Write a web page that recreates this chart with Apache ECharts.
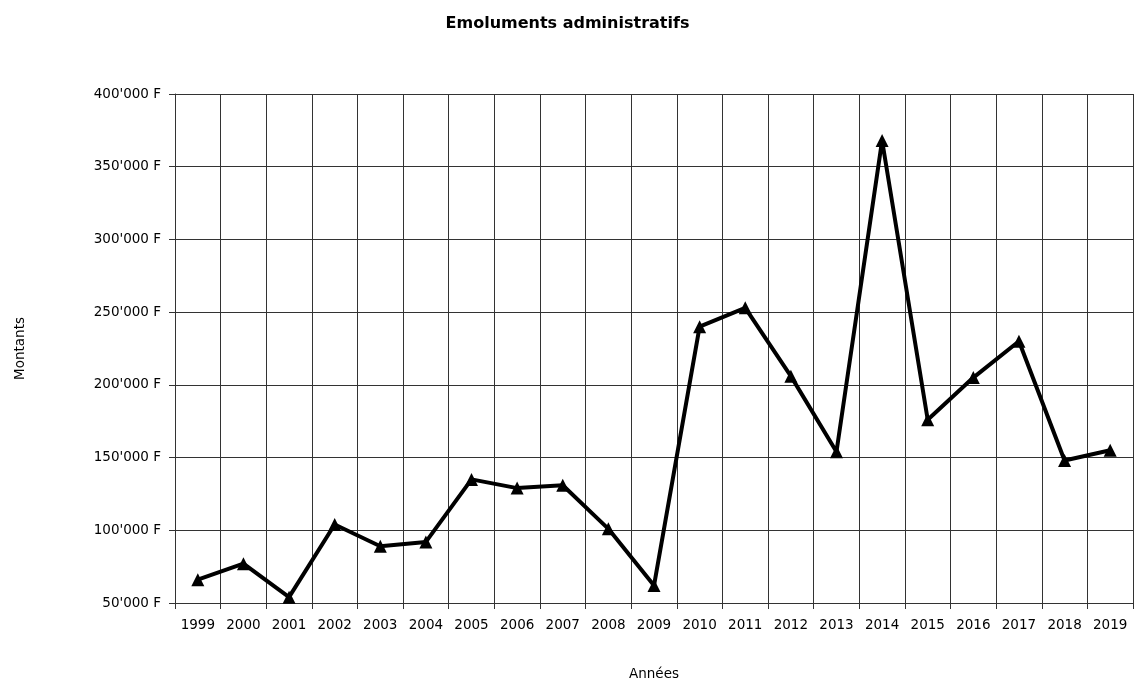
<!DOCTYPE html>
<html>
<head>
<meta charset="utf-8">
<script src="https://cdn.jsdelivr.net/npm/echarts@6/dist/echarts.min.js"></script>
<style>html,body{margin:0;padding:0;background:#fff}#c{width:1135px;height:682px}</style>
</head>
<body>
<div id="c"></div>
<script>
const years = ['1999','2000','2001','2002','2003','2004','2005','2006','2007','2008','2009','2010','2011','2012','2013','2014','2015','2016','2017','2018','2019'];
const amounts = [66000,77000,54000,104000,89000,92000,135000,129000,131000,101000,62000,240000,253000,206000,154000,368000,176000,205000,230000,148000,155000];
const yTicks = {min:50000, max:400000, interval:50000};
const titleText = 'Emoluments administratifs';
const xName = 'Années';
const yName = 'Montants';

function fmt(v){
  const s = String(Math.round(v));
  return s.replace(/\B(?=(\d{3})+(?!\d))/g, "'") + ' F';
}

const chart = echarts.init(document.getElementById('c'));
const font = 'DejaVu Sans, Verdana, sans-serif';
chart.setOption({
  animation:false,
  textStyle:{fontFamily:font},
  title:{text:titleText,left:'center',top:11,textStyle:{fontSize:16,fontWeight:'bold',color:'#000',fontFamily:font}},
  grid:{left:175,right:2,top:94,bottom:79,containLabel:false,outerBoundsMode:'none'},
  xAxis:{
    type:'category',data:years,boundaryGap:true,
    name:xName,nameLocation:'middle',nameGap:64,
    nameTextStyle:{fontSize:13.5,color:'#000'},
    axisLine:{show:true,lineStyle:{color:'#333',width:1}},
    axisTick:{show:true,length:6,lineStyle:{color:'#333'}},
    axisLabel:{color:'#000',fontSize:13.5,margin:15,interval:0},
    splitLine:{show:true,lineStyle:{color:'#333',width:1}}
  },
  yAxis:{
    type:'value',min:yTicks.min,max:yTicks.max,interval:yTicks.interval,
    name:yName,nameLocation:'middle',nameGap:148,nameRotate:90,
    nameTextStyle:{fontSize:13.5,color:'#000'},
    axisLine:{show:true,lineStyle:{color:'#333',width:1}},
    axisTick:{show:true,length:6,lineStyle:{color:'#333'}},
    axisLabel:{color:'#000',fontSize:13.5,margin:14,formatter:fmt},
    splitLine:{show:true,lineStyle:{color:'#333',width:1}}
  },
  series:[{
    type:'line',data:amounts,
    lineStyle:{color:'#000',width:4},
    itemStyle:{color:'#000'},
    symbol:'triangle',symbolSize:13,showSymbol:true
  }]
});
</script>
</body>
</html>
